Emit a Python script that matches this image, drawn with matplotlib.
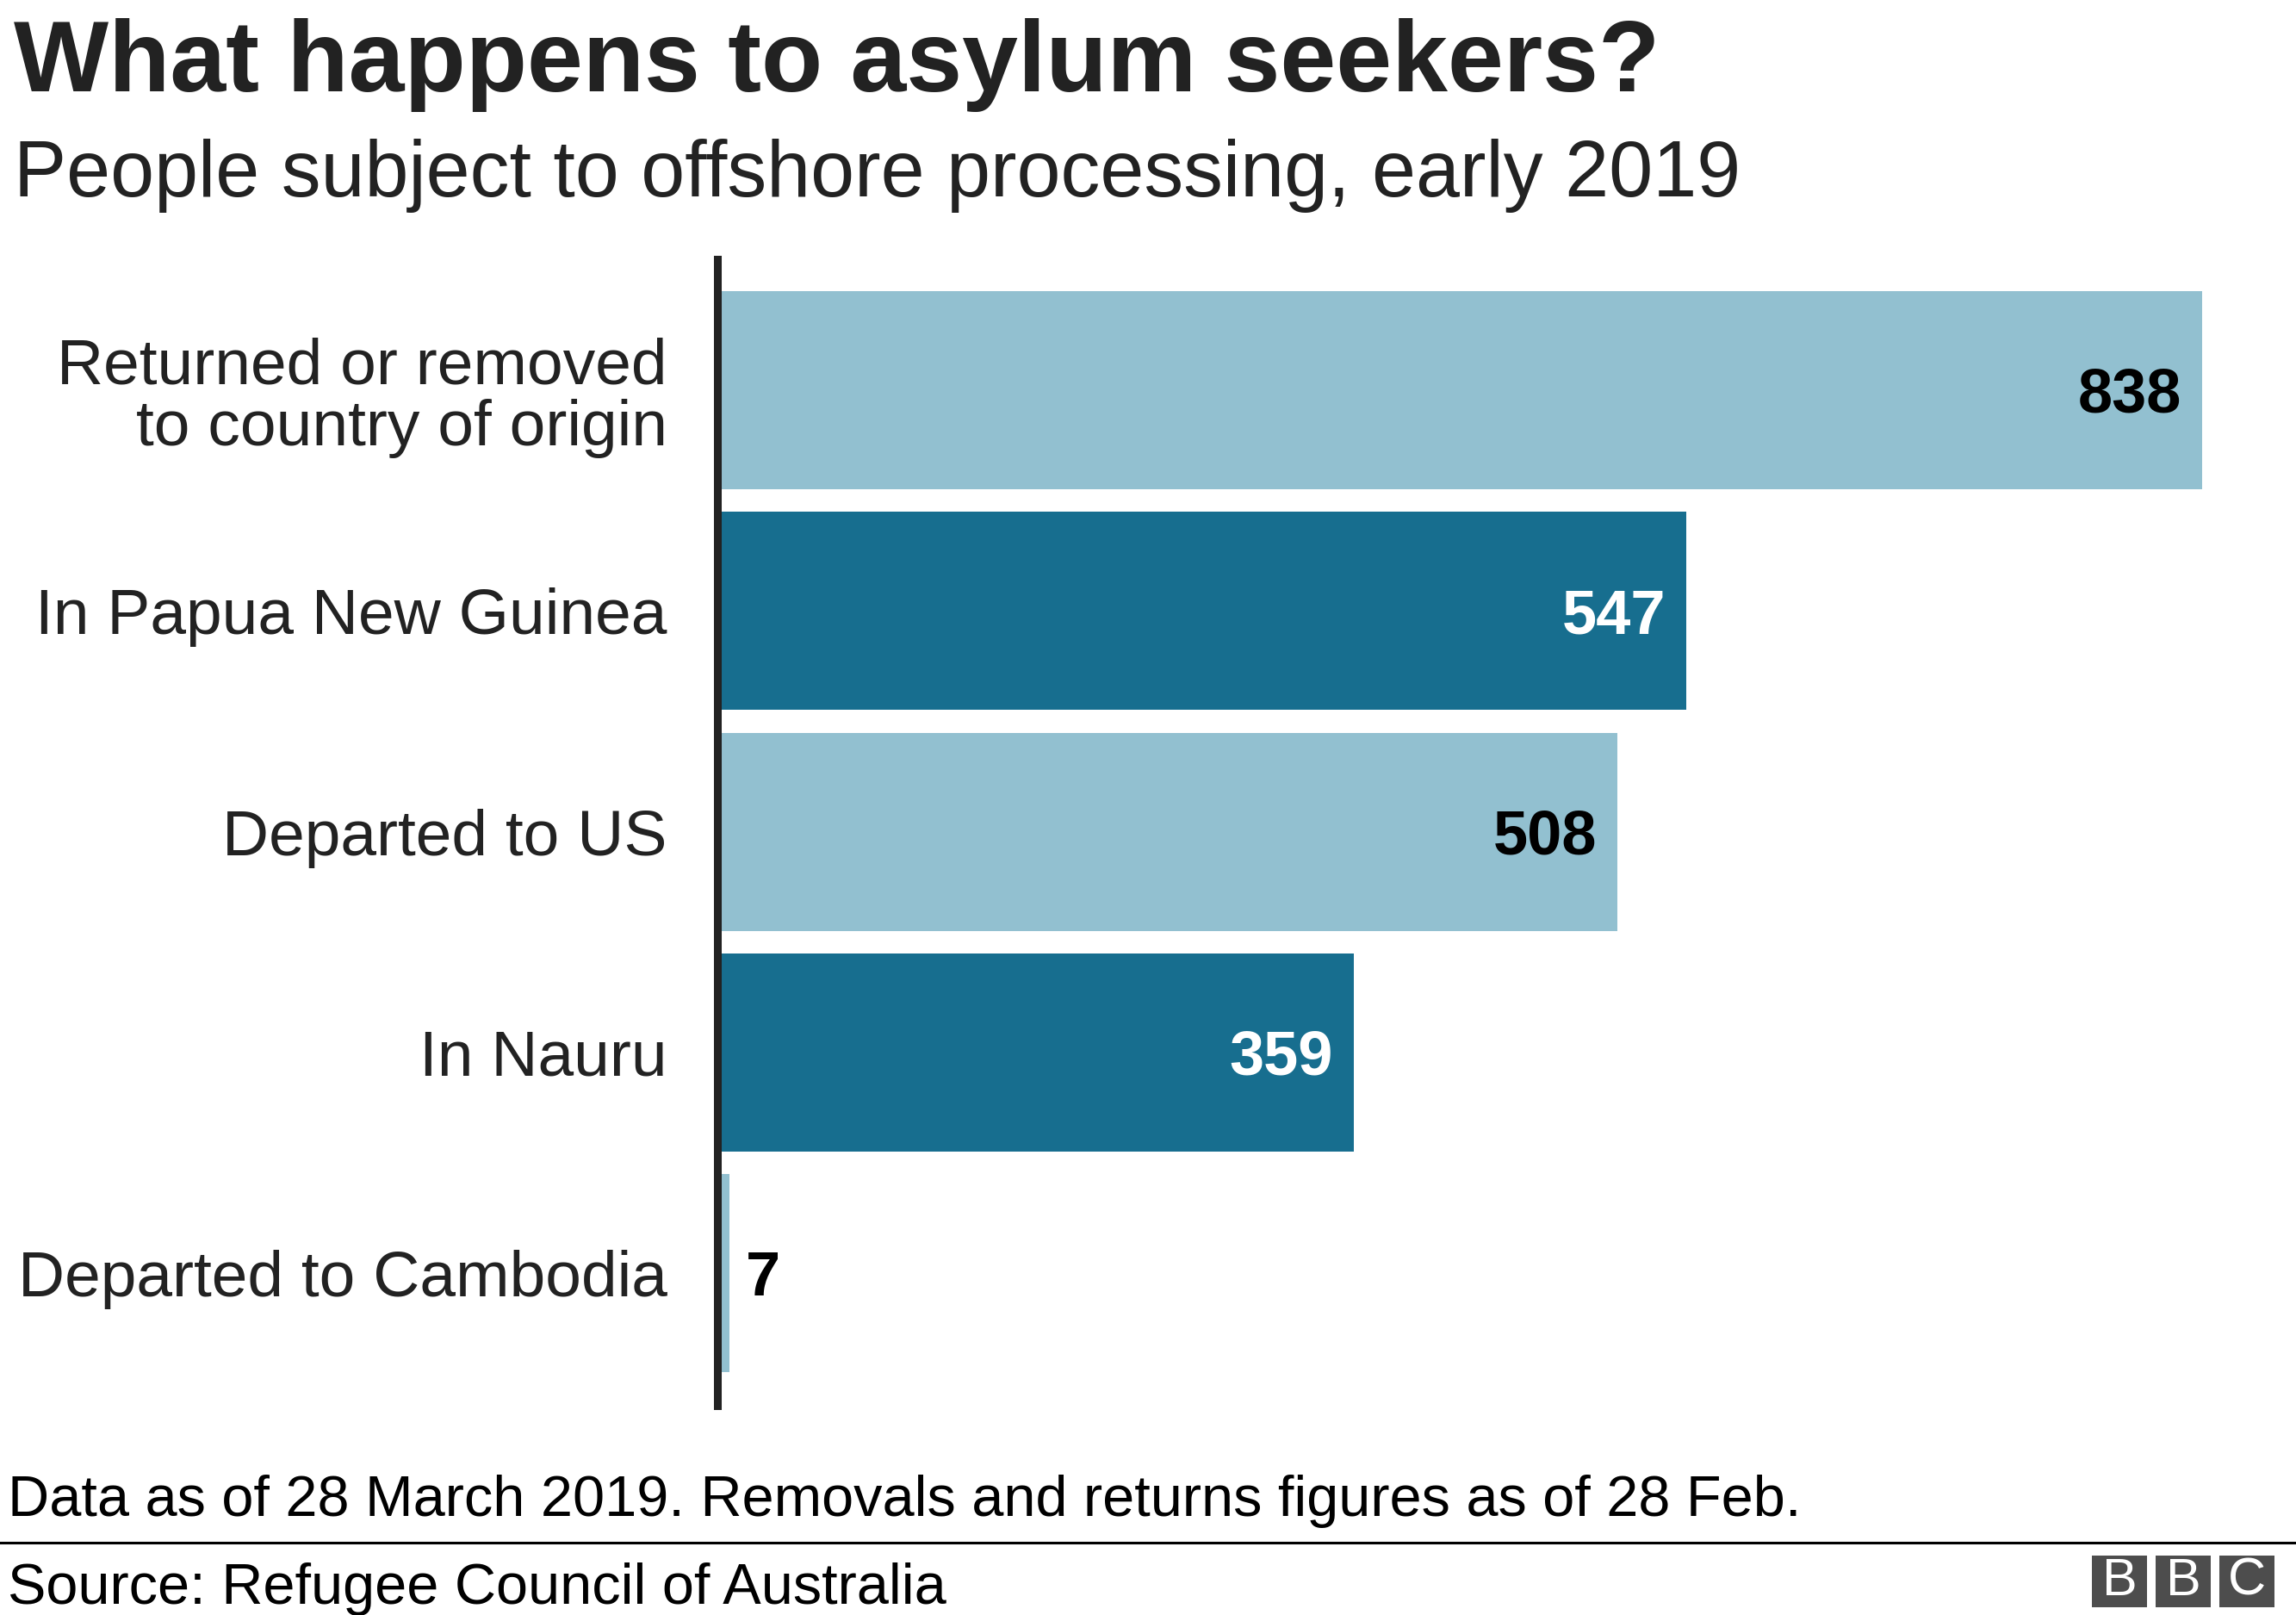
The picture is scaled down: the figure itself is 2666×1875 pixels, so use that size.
import matplotlib
matplotlib.use("Agg")
import matplotlib.pyplot as plt
from matplotlib.patches import Rectangle

plt.rcParams['font.family'] = ['Liberation Sans', 'DejaVu Sans']

# data
categories = ['Returned or removed\nto country of origin', 'In Papua New Guinea',
              'Departed to US', 'In Nauru', 'Departed to Cambodia']
values = [838, 547, 508, 359, 7]
shades = ['light', 'dark', 'light', 'dark', 'light']

bar_colors = {'light': '#92c0d0', 'dark': '#176e8f'}
label_colors = {'light': '#000000', 'dark': '#ffffff'}

W, H = 2666, 1875
fig = plt.figure(figsize=(W / 100, H / 100), dpi=100)

# axes placed in pixel terms of the reference
ax_left, ax_right = 833, 2640
ax_top, ax_bottom = 301, 1632
ax = fig.add_axes([ax_left / W, 1 - ax_bottom / H,
                   (ax_right - ax_left) / W, (ax_bottom - ax_top) / H])

px_per_unit = (2557 - ax_left) / 838
ax.set_xlim(0, (ax_right - ax_left) / px_per_unit)
ax.set_ylim(4.6, -0.593)

ypos = list(range(len(categories)))
ax.barh(ypos, values, height=0.898, color=[bar_colors[s] for s in shades], zorder=1)

val_size = 52
half_cap = val_size * 0.716 / 2
for y, v, s in zip(ypos, values, shades):
    if v > 50:
        ax.annotate(str(v), (v, y), xytext=(-17, -half_cap), textcoords='offset points',
                    ha='right', va='baseline', fontsize=val_size, fontweight='bold',
                    color=label_colors[s])
    else:
        ax.annotate(str(v), (v, y), xytext=(13, -half_cap), textcoords='offset points',
                    ha='left', va='baseline', fontsize=val_size, fontweight='bold',
                    color='#000000')

ax.set_yticks(ypos)
ax.set_yticklabels(categories, fontsize=54, color='#222222', linespacing=1.05)
ax.tick_params(axis='y', length=0, pad=42)
ax.set_xticks([])
for side in ['top', 'right', 'bottom']:
    ax.spines[side].set_visible(False)
ax.spines['left'].set_linewidth(6.5)
ax.spines['left'].set_color('#222222')
ax.spines['left'].set_zorder(3)

# titles
fig.text(0.006, 1 - 106 / H, 'What happens to asylum seekers?', fontsize=84,
         fontweight='bold', color='#222222', va='baseline', ha='left')
fig.text(0.006, 1 - 228 / H, 'People subject to offshore processing, early 2019',
         fontsize=66, color='#222222', va='baseline', ha='left')

# footer
fig.text(0.0034, 1 - 1760 / H,
         'Data as of 28 March 2019. Removals and returns figures as of 28 Feb.',
         fontsize=48, color='#000000', va='baseline', ha='left')
fig.add_artist(plt.Line2D([0, 1], [1 - 1791 / H, 1 - 1791 / H],
                          transform=fig.transFigure, color='#000000', linewidth=2.2))
fig.text(0.0034, 1 - 1862 / H, 'Source: Refugee Council of Australia',
         fontsize=48, color='#000000', va='baseline', ha='left')

# BBC blocks
for i, letter in enumerate('BBC'):
    x0 = 2429 + i * 74
    fig.add_artist(Rectangle((x0 / W, 1 - 1866 / H), 64 / W, 60 / H,
                             transform=fig.transFigure, facecolor='#4d4d4d',
                             edgecolor='none'))
    fig.text((x0 + 32) / W, 1 - 1836 / H, letter, fontsize=44, color='white',
             ha='center', va='center')

fig.savefig('out.png', dpi=100, facecolor='white')
